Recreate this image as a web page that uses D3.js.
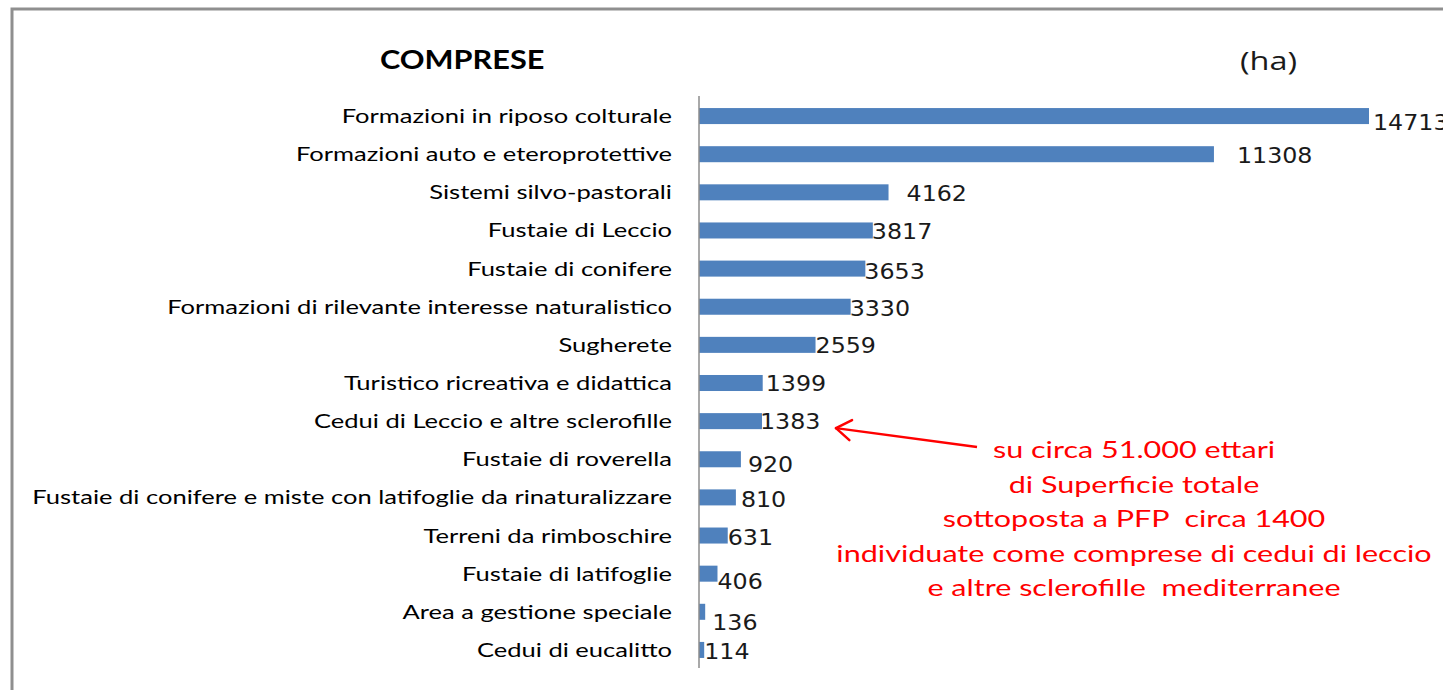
<!DOCTYPE html>
<html>
<head>
<meta charset="utf-8">
<script src="https://cdn.jsdelivr.net/npm/d3@7"></script>
<style>
  body { margin: 0; background: #fff; }
  svg { display: block; }
</style>
</head>
<body>
<div class="chart"></div>
<script>
var categories = [
    "Formazioni in riposo colturale",
    "Formazioni auto e eteroprotettive",
    "Sistemi silvo-pastorali",
    "Fustaie di Leccio",
    "Fustaie di conifere",
    "Formazioni di rilevante interesse naturalistico",
    "Sugherete",
    "Turistico ricreativa e didattica",
    "Cedui di Leccio e altre sclerofille",
    "Fustaie di roverella",
    "Fustaie di conifere e miste con latifoglie da rinaturalizzare",
    "Terreni da rimboschire",
    "Fustaie di latifoglie",
    "Area a gestione speciale",
    "Cedui di eucalitto"
];
var values = [14713, 11308, 4162, 3817, 3653, 3330, 2559, 1399, 1383, 920, 810, 631, 406, 136, 114];

// small nudges of the value labels, as in the original picture
var labelDx = [4, 23, 18, -1, -1, -1, 0, 3, -2, 7, 5, 0, 0, 7, 0];
var labelDy = [6, 1, 1, 1, 2, 1, 0, 0, 0, 5, 2, 2, 7, 10, 1];

var noteLines = [
    "su circa 51.000 ettari",
    "di Superficie totale",
    "sottoposta a PFP  circa 1400",
    "individuate come comprese di cedui di leccio",
    "e altre sclerofille  mediterranee"
];

var width = 1443, height = 690;
var margin = { left: 699, top: 97, bottom: 21 };

var svg = d3.select(".chart")
    .append("svg")
    .attr("width", width)
    .attr("height", height);

// the original picture is horizontally stretched, so is the text
function stretch(sel, k) {
    sel.each(function () {
        var t = d3.select(this);
        var tx = +t.attr("x") || 0;
        var ty = +t.attr("y") || 0;
        t.attr("x", 0).attr("y", 0)
            .attr("transform", "translate(" + tx + "," + ty + ") scale(" + k + ",1)");
    });
}

// outer frame
svg.append("rect")
    .attr("x", 12)
    .attr("y", 9)
    .attr("width", width + 20)
    .attr("height", height + 20)
    .attr("fill", "none")
    .attr("stroke", "#8f8f8f")
    .attr("stroke-width", 3);

var y = d3.scaleBand()
    .domain(categories)
    .range([margin.top, height - margin.bottom])
    .paddingInner(0.58)
    .paddingOuter(0.29);

var x = d3.scaleLinear()
    .domain([0, d3.max(values)])
    .range([margin.left, 1369]);

// bars
svg.selectAll(".bar")
    .data(values)
    .enter()
    .append("rect")
    .attr("class", "bar")
    .attr("x", x(0))
    .attr("y", function (d, i) { return y(categories[i]); })
    .attr("width", function (d) { return x(d) - x(0); })
    .attr("height", y.bandwidth())
    .attr("fill", "#4f81bd");

// category axis
var yAxis = svg.append("g")
    .attr("transform", "translate(" + x(0) + ",0)")
    .call(d3.axisLeft(y).tickSize(0).tickPadding(27));

yAxis.select(".domain")
    .attr("stroke", "#8c8c8c")
    .attr("stroke-width", 1.5)
    .attr("d", "M0," + (margin.top - 1) + "V" + (height - margin.bottom - 1));

yAxis.selectAll("text")
    .attr("fill", "#000")
    .attr("dy", "0.36em")
    .style("font-family", "Lato, 'Open Sans', sans-serif")
    .style("font-size", "19.5px")
    .call(stretch, 1.31);

// value labels
svg.selectAll(".val")
    .data(values)
    .enter()
    .append("text")
    .attr("class", "val")
    .attr("x", function (d, i) { return x(d) + labelDx[i]; })
    .attr("y", function (d, i) { return y(categories[i]) + y.bandwidth() / 2 + labelDy[i]; })
    .attr("dy", "0.36em")
    .style("font-family", "'DejaVu Sans', sans-serif")
    .style("font-size", "22px")
    .style("fill", "#1a1a1a")
    .text(function (d) { return d; })
    .call(stretch, 1.08);

// titles
svg.append("text")
    .attr("x", 380)
    .attr("y", 69)
    .style("font-family", "Lato, sans-serif")
    .style("font-weight", "bold")
    .style("font-size", "26px")
    .text("COMPRESE")
    .call(stretch, 1.18);

svg.append("text")
    .attr("x", 1240)
    .attr("y", 70)
    .style("font-family", "'Open Sans', sans-serif")
    .style("font-size", "25px")
    .style("fill", "#1a1a1a")
    .text("(ha)")
    .call(stretch, 1.3);

// annotation
var arrowFrom = [977, 447];
var target = y(categories[8]) + y.bandwidth() / 2 + 7;
var tipX = x(values[8]) + 74;

svg.append("line")
    .attr("x1", arrowFrom[0])
    .attr("y1", arrowFrom[1])
    .attr("x2", tipX)
    .attr("y2", target)
    .attr("stroke", "#ff0000")
    .attr("stroke-width", 2.5);

var ang = Math.atan2(arrowFrom[1] - target, arrowFrom[0] - tipX);
[-0.6, 0.6].forEach(function (a) {
    svg.append("line")
        .attr("x1", tipX)
        .attr("y1", target)
        .attr("x2", tipX + 18 * Math.cos(ang + a))
        .attr("y2", target + 18 * Math.sin(ang + a))
        .attr("stroke", "#ff0000")
        .attr("stroke-width", 2.5)
        .attr("stroke-linecap", "round");
});

svg.selectAll(".note")
    .data(noteLines)
    .enter()
    .append("text")
    .attr("class", "note")
    .attr("x", 1134)
    .attr("y", function (d, i) { return 458 + i * 34.5; })
    .attr("text-anchor", "middle")
    .style("font-family", "Lato, sans-serif")
    .style("font-size", "23.5px")
    .style("fill", "#ff0000")
    .style("white-space", "pre")
    .text(function (d) { return d; })
    .call(stretch, 1.3);
</script>
</body>
</html>
